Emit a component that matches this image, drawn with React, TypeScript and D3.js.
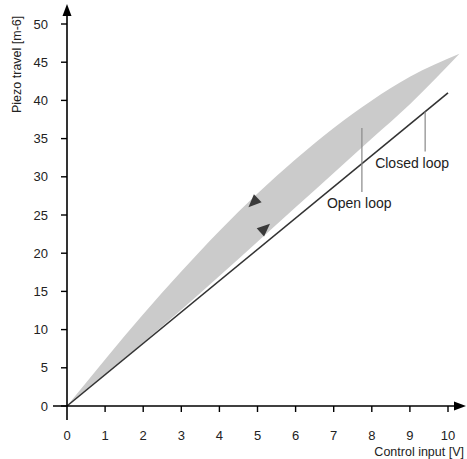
import React from "react"
import * as d3 from "d3"

// hysteresis loop (open loop)
const controlInput = [0, 1, 2, 3, 4, 5, 6, 7, 8, 9, 10.3]
const travelDown = [0, 6.1, 12.0, 17.6, 22.9, 27.8, 32.3, 36.4, 40.0, 43.1, 46.1]
const travelUp = [0, 4.1, 8.3, 12.6, 17.0, 21.5, 26.0, 30.5, 35.0, 39.5, 46.1]

// closed loop is a straight line
const closedInput = [0, 10]
const closedTravel = [0, 41]

const xTicks = [0, 1, 2, 3, 4, 5, 6, 7, 8, 9, 10]
const yTicks = [0, 5, 10, 15, 20, 25, 30, 35, 40, 45, 50]

const width = 467
const height = 459
const font = "'Liberation Sans', Arial, Helvetica, sans-serif"

const interp = (v: number, ys: number[]) => {
    for (let i = 1; i < controlInput.length; i++) {
        if (v <= controlInput[i]) {
            const t = (v - controlInput[i - 1]) / (controlInput[i] - controlInput[i - 1])
            return ys[i - 1] + t * (ys[i] - ys[i - 1])
        }
    }
    return ys[ys.length - 1]
}

export default function App() {
    const x = d3.scaleLinear().domain([0, 10]).range([67, 448])
    const y = d3.scaleLinear().domain([0, 50]).range([406, 24])

    const loop = controlInput.map((v, i) => ({ v, lo: travelUp[i], hi: travelDown[i] }))
    const area = d3.area<{ v: number, lo: number, hi: number }>()
        .x(d => x(d.v))
        .y0(d => y(d.lo))
        .y1(d => y(d.hi))
        .curve(d3.curveMonotoneX)

    const closedLine = d3.line<number>()
        .x((d, i) => x(closedInput[i]))
        .y(d => y(d))

    // direction arrows on the two branches, pushed into the grey band
    const arrow = (v: number, ys: number[], upper: boolean, offset: number) => {
        const px = x(v), py = y(interp(v, ys))
        const px2 = x(v + 0.2), py2 = y(interp(v + 0.2, ys))
        const len = Math.hypot(px2 - px, py2 - py)
        const tx = (px2 - px) / len, ty = (py2 - py) / len
        const s = upper ? 1 : -1
        const cx = px + s * offset * -ty
        const cy = py + s * offset * tx
        let ang = Math.atan2(ty, tx) * 180 / Math.PI
        if (upper) ang += 180
        return (
            <path d="M7,0 L-6,-5.5 L-6,5.5 Z" fill="#3a3a3a"
                transform={`translate(${cx},${cy}) rotate(${ang})`} />
        )
    }

    const closedLabelV = 9.4
    const clX = x(closedLabelV)
    const clY = y(closedLabelV * closedTravel[1] / closedInput[1])
    const openLabelV = 7.74
    const olX = x(openLabelV)

    return (
        <svg width={width} height={height}
            style={{ position: "absolute", left: 0, top: 0, fontFamily: font }}>
            <rect width={width} height={height} fill="#fff" />

            <path d={area(loop) || ""} fill="#cbcbcb" />
            <path d={closedLine(closedTravel) || ""} fill="none" stroke="#333" strokeWidth={1.6} />

            {arrow(4.83, travelDown, true, 3.5)}
            {arrow(5.28, travelUp, false, 5)}

            {/* axes */}
            <line x1={x(0)} x2={x(0)} y1={420} y2={12} stroke="#000" strokeWidth={1.6} />
            <path d={`M${x(0)},4 L${x(0) - 4.5},16 L${x(0) + 4.5},16 Z`} fill="#000" />
            <line x1={53} x2={458} y1={y(0)} y2={y(0)} stroke="#000" strokeWidth={1.6} />
            <path d={`M466,${y(0)} L454,${y(0) - 4.5} L454,${y(0) + 4.5} Z`} fill="#000" />

            {yTicks.map(t => (
                <g key={"y" + t}>
                    <line x1={x(0) - 6} x2={x(0)} y1={y(t)} y2={y(t)} stroke="#000" strokeWidth={1.4} />
                    <text x={48} y={y(t)} dy="0.35em" textAnchor="end" fontSize={13} fill="#222">{t}</text>
                </g>
            ))}
            {xTicks.map(t => (
                <g key={"x" + t}>
                    {t > 0 && <line x1={x(t)} x2={x(t)} y1={y(0)} y2={y(0) + 6} stroke="#000" strokeWidth={1.4} />}
                    <text x={x(t)} y={440} textAnchor="middle" fontSize={13} fill="#222">{t}</text>
                </g>
            ))}

            <text x={464} y={456} textAnchor="end" fontSize={12.5} fill="#222">Control input [V]</text>
            <text transform="translate(21,113) rotate(-90)" fontSize={12.5} fill="#222">Piezo travel [m-6]</text>

            {/* labels */}
            <line x1={clX} x2={clX} y1={clY} y2={clY + 40} stroke="#888" strokeWidth={1.2} />
            <text x={clX - 50} y={clY + 56} fontSize={14} fill="#222">Closed loop</text>
            <line x1={olX} x2={olX} y1={y(36.4)} y2={y(28)} stroke="#888" strokeWidth={1.2} />
            <text x={olX - 35} y={y(28) + 16} fontSize={14} fill="#222">Open loop</text>
        </svg>
    )
}
